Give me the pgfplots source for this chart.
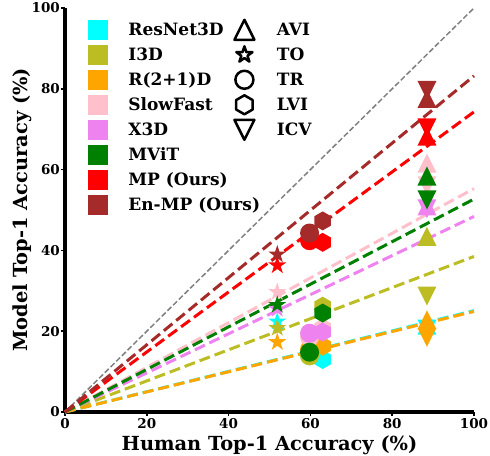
\documentclass[border=0pt]{standalone}
\usepackage{fontspec}
\setmainfont{DejaVu Serif}
\usepackage{pgfplots}
\pgfplotsset{compat=1.18}
\definecolor{cResNet}{HTML}{00FFFF}
\definecolor{cIThreeD}{HTML}{BCBD22}
\definecolor{cR21D}{HTML}{FFA500}
\definecolor{cSlowFast}{HTML}{FFC0CB}
\definecolor{cXThreeD}{HTML}{EE82EE}
\definecolor{cMViT}{HTML}{008000}
\definecolor{cMP}{HTML}{FF0000}
\definecolor{cEnMP}{HTML}{A52A2A}
% marker paths (matplotlib-like)
\newcommand\triUpPath{\pgfpathmoveto{\pgfqpoint{0pt}{\pgfplotmarksize}}\pgfpathlineto{\pgfqpoint{-\pgfplotmarksize}{-\pgfplotmarksize}}\pgfpathlineto{\pgfqpoint{\pgfplotmarksize}{-\pgfplotmarksize}}\pgfpathclose}
\newcommand\triDnPath{\pgfpathmoveto{\pgfqpoint{0pt}{-\pgfplotmarksize}}\pgfpathlineto{\pgfqpoint{-\pgfplotmarksize}{\pgfplotmarksize}}\pgfpathlineto{\pgfqpoint{\pgfplotmarksize}{\pgfplotmarksize}}\pgfpathclose}
\newcommand\hexPath{\pgfpathmoveto{\pgfpointpolar{90}{\pgfplotmarksize}}\pgfpathlineto{\pgfpointpolar{150}{\pgfplotmarksize}}\pgfpathlineto{\pgfpointpolar{210}{\pgfplotmarksize}}\pgfpathlineto{\pgfpointpolar{270}{\pgfplotmarksize}}\pgfpathlineto{\pgfpointpolar{330}{\pgfplotmarksize}}\pgfpathlineto{\pgfpointpolar{30}{\pgfplotmarksize}}\pgfpathclose}
\newcommand\starPath{\pgfpathmoveto{\pgfpointpolar{90}{\pgfplotmarksize}}\pgfpathlineto{\pgfpointpolar{126}{0.382\pgfplotmarksize}}\pgfpathlineto{\pgfpointpolar{162}{\pgfplotmarksize}}\pgfpathlineto{\pgfpointpolar{198}{0.382\pgfplotmarksize}}\pgfpathlineto{\pgfpointpolar{234}{\pgfplotmarksize}}\pgfpathlineto{\pgfpointpolar{270}{0.382\pgfplotmarksize}}\pgfpathlineto{\pgfpointpolar{306}{\pgfplotmarksize}}\pgfpathlineto{\pgfpointpolar{342}{0.382\pgfplotmarksize}}\pgfpathlineto{\pgfpointpolar{18}{\pgfplotmarksize}}\pgfpathlineto{\pgfpointpolar{54}{0.382\pgfplotmarksize}}\pgfpathclose}
\newcommand\circPath{\pgfpathcircle{\pgfpointorigin}{\pgfplotmarksize}}
\pgfdeclareplotmark{triF}{\triUpPath\pgfusepathqfill}
\pgfdeclareplotmark{tdnF}{\triDnPath\pgfusepathqfill}
\pgfdeclareplotmark{hexF}{\hexPath\pgfusepathqfill}
\pgfdeclareplotmark{starF}{\starPath\pgfusepathqfill}
\pgfdeclareplotmark{circF}{\circPath\pgfusepathqfill}
\pgfdeclareplotmark{triO}{\triUpPath\pgfusepathqstroke}
\pgfdeclareplotmark{tdnO}{\triDnPath\pgfusepathqstroke}
\pgfdeclareplotmark{hexO}{\hexPath\pgfusepathqstroke}
\pgfdeclareplotmark{starO}{\starPath\pgfusepathqstroke}
\pgfdeclareplotmark{circO}{\circPath\pgfusepathqstroke}
\pgfplotsset{
  pt/.style={only marks, forget plot, mark size=9.5bp},
  fitline/.style={forget plot, no marks, line width=3bp, dash pattern=on 11bp off 5bp},
  sqimg/.style={legend image code/.code={\path[draw=none,fill=none] (0bp,-12.5bp) rectangle (20bp,12.5bp);\fill[#1,draw=none] (0bp,-10bp) rectangle (20bp,10bp);}},
  mkimg/.style 2 args={legend image code/.code={\path[draw=none,fill=none] (0bp,-12.5bp) rectangle (24bp,12.5bp);\pgfsetlinewidth{2.5bp}\pgfsetstrokecolor{black}\pgfsetroundjoin\pgfplotmarksize=#2\pgftransformshift{\pgfqpoint{12bp}{0bp}}\pgfuseplotmark{#1}}},
}
\newcommand\lt[1]{\makebox[104bp][l]{#1}}
\begin{document}
\begin{tikzpicture}
\path[use as bounding box] (-65bp,-44bp) rectangle (425bp,412bp);
\begin{axis}[
  at={(0,0)}, anchor=south west,
  scale only axis, width=409bp, height=404bp,
  xmin=0, xmax=100, ymin=0, ymax=100,
  axis x line*=bottom, axis y line*=left,
  axis line style={line width=3bp, -},
  xtick={0,20,...,100}, ytick={0,20,...,100},
  tick align=outside, major tick length=4bp,
  every tick/.style={black, line width=1.5bp},
  /pgf/number format/assume math mode=true,
  ticklabel style={font=\fontsize{13.5bp}{16bp}\selectfont\bfseries},
  xticklabel style={anchor=base, inner sep=0pt, yshift=-12bp},
  yticklabel style={anchor=east, inner sep=0pt, xshift=-1bp},
  every axis x label/.style={at={(axis description cs:0.5,-0.0941)}, anchor=base, font=\fontsize{19.4bp}{22bp}\selectfont\bfseries, inner sep=0pt},
  every axis y label/.style={at={(axis description cs:-0.0929,0.5)}, rotate=90, anchor=base, font=\fontsize{19.4bp}{22bp}\selectfont\bfseries, inner sep=0pt},
  xlabel={Human Top-1 Accuracy (\%)},
  ylabel={Model Top-1 Accuracy (\%)},
  clip=false,
  legend columns=2,
  legend cell align=left,
  legend style={draw=none, fill=none, at={(axis description cs:0.056,0.977)}, anchor=north west,
    inner sep=0pt, outer sep=0pt, row sep=0pt,
    font=\fontsize{17bp}{20bp}\selectfont\bfseries,
    nodes={inner sep=0pt},
    /tikz/every odd column/.append style={column sep=20.5bp}},
]
% legend
\addlegendimage{sqimg=cResNet}\addlegendentry{\lt{ResNet3D}}
\addlegendimage{mkimg={triO}{10bp}}\addlegendentry{AVI}
\addlegendimage{sqimg=cIThreeD}\addlegendentry{\lt{I3D}}
\addlegendimage{mkimg={starO}{8.5bp}}\addlegendentry{TO}
\addlegendimage{sqimg=cR21D}\addlegendentry{\lt{R(2+1)D}}
\addlegendimage{mkimg={circO}{9bp}}\addlegendentry{TR}
\addlegendimage{sqimg=cSlowFast}\addlegendentry{\lt{SlowFast}}
\addlegendimage{mkimg={hexO}{9.5bp}}\addlegendentry{LVI}
\addlegendimage{sqimg=cXThreeD}\addlegendentry{\lt{X3D}}
\addlegendimage{mkimg={tdnO}{10bp}}\addlegendentry{ICV}
\addlegendimage{sqimg=cMViT}\addlegendentry{\lt{MViT}}
\addlegendimage{empty legend}\addlegendentry{}
\addlegendimage{sqimg=cMP}\addlegendentry{\lt{MP (Ours)}}
\addlegendimage{empty legend}\addlegendentry{}
\addlegendimage{sqimg=cEnMP}\addlegendentry{\lt{En-MP (Ours)}}
\addlegendimage{empty legend}\addlegendentry{}
% ResNet3D
\addplot[pt, cResNet, mark=triF]  coordinates {(88.5,21.5)};
\addplot[pt, cResNet, mark=starF] coordinates {(51.9,22.4)};
\addplot[pt, cResNet, mark=circF] coordinates {(59.8,14.0)};
\addplot[pt, cResNet, mark=hexF]  coordinates {(63.0,13.0)};
\addplot[pt, cResNet, mark=tdnF]  coordinates {(88.5,20.5)};
% I3D
\addplot[pt, cIThreeD, mark=triF]  coordinates {(88.5,43.5)};
\addplot[pt, cIThreeD, mark=starF] coordinates {(51.9,20.8)};
\addplot[pt, cIThreeD, mark=circF] coordinates {(59.8,13.9)};
\addplot[pt, cIThreeD, mark=hexF]  coordinates {(63.0,26.2)};
\addplot[pt, cIThreeD, mark=tdnF]  coordinates {(88.5,28.7)};
% R(2+1)D
\addplot[pt, cR21D, mark=triF]  coordinates {(88.5,22.8)};
\addplot[pt, cR21D, mark=starF] coordinates {(51.9,17.3)};
\addplot[pt, cR21D, mark=circF] coordinates {(59.8,15.5)};
\addplot[pt, cR21D, mark=hexF]  coordinates {(63.0,16.3)};
\addplot[pt, cR21D, mark=tdnF]  coordinates {(88.5,18.5)};
% SlowFast
\addplot[pt, cSlowFast, mark=triF]  coordinates {(88.5,61.6)};
\addplot[pt, cSlowFast, mark=starF] coordinates {(51.9,29.7)};
\addplot[pt, cSlowFast, mark=circF] coordinates {(59.8,18.5)};
\addplot[pt, cSlowFast, mark=hexF]  coordinates {(63.0,20.8)};
\addplot[pt, cSlowFast, mark=tdnF]  coordinates {(88.5,56.0)};
% X3D
\addplot[pt, cXThreeD, mark=triF]  coordinates {(88.5,51.0)};
\addplot[pt, cXThreeD, mark=starF] coordinates {(51.9,25.5)};
\addplot[pt, cXThreeD, mark=circF] coordinates {(59.8,19.5)};
\addplot[pt, cXThreeD, mark=hexF]  coordinates {(63.0,19.8)};
\addplot[pt, cXThreeD, mark=tdnF]  coordinates {(88.5,50.3)};
% MViT
\addplot[pt, cMViT, mark=triF]  coordinates {(88.5,58.4)};
\addplot[pt, cMViT, mark=starF] coordinates {(51.9,26.5)};
\addplot[pt, cMViT, mark=circF] coordinates {(59.8,14.8)};
\addplot[pt, cMViT, mark=hexF]  coordinates {(63.0,24.5)};
\addplot[pt, cMViT, mark=tdnF]  coordinates {(88.5,52.5)};
% MP
\addplot[pt, cMP, mark=triF]  coordinates {(88.5,68.3)};
\addplot[pt, cMP, mark=starF] coordinates {(51.9,36.3)};
\addplot[pt, cMP, mark=circF] coordinates {(59.8,42.4)};
\addplot[pt, cMP, mark=hexF]  coordinates {(63.0,42.0)};
\addplot[pt, cMP, mark=tdnF]  coordinates {(88.5,70.3)};
% En-MP
\addplot[pt, cEnMP, mark=triF]  coordinates {(88.5,77.6)};
\addplot[pt, cEnMP, mark=starF] coordinates {(51.9,39.0)};
\addplot[pt, cEnMP, mark=circF] coordinates {(59.8,44.3)};
\addplot[pt, cEnMP, mark=hexF]  coordinates {(63.0,47.3)};
\addplot[pt, cEnMP, mark=tdnF]  coordinates {(88.5,79.6)};
% fitted lines
\addplot[forget plot, no marks, gray, line width=1.5bp, dash pattern=on 5.5bp off 2.5bp] coordinates {(0,0) (100,100)};
\addplot[fitline, cResNet]   coordinates {(0,0) (100,25.1)};
\addplot[fitline, cIThreeD]  coordinates {(0,0) (100,38.5)};
\addplot[fitline, cR21D]     coordinates {(0,0) (100,24.9)};
\addplot[fitline, cSlowFast] coordinates {(0,0) (100,55.3)};
\addplot[fitline, cXThreeD]  coordinates {(0,0) (100,48.4)};
\addplot[fitline, cMViT]     coordinates {(0,0) (100,52.7)};
\addplot[fitline, cMP]       coordinates {(0,0) (100,74.3)};
\addplot[fitline, cEnMP]     coordinates {(0,0) (100,83.2)};
\end{axis}
\end{tikzpicture}
\end{document}
